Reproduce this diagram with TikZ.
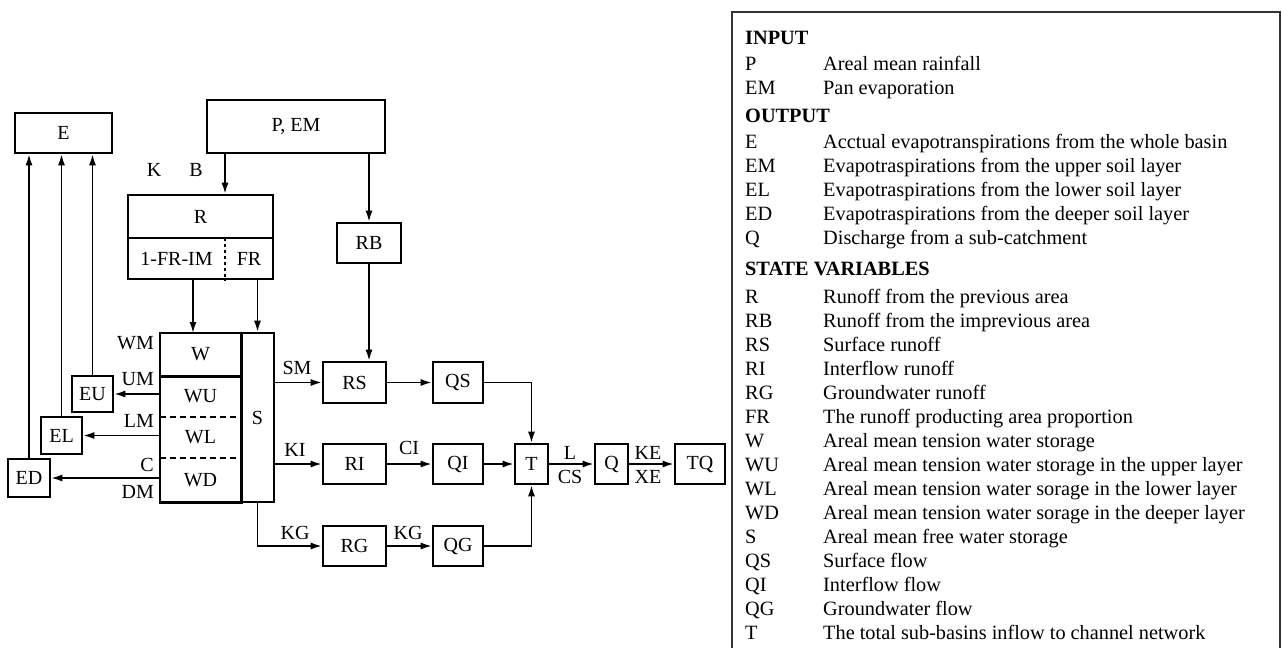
\documentclass[tikz,border=0pt]{standalone}
\usepackage{fontspec}
\setmainfont{Liberation Serif}
\usepackage{array}
\usetikzlibrary{arrows.meta,positioning}
\tikzset{
  box/.style   = {rectangle, draw, line width=2.6pt, inner sep=0pt},
  lay/.style   = {rectangle, inner sep=0pt, minimum width=81pt},
  lbl/.style   = {inner sep=0pt},
  arr/.style   = {-{Latex[length=11pt,width=7pt]}, line width=1.6pt},
  lane/.style  = {line width=1.6pt},
  split/.style = {line width=1.6pt, dash pattern=on 6pt off 4pt},
  frame/.style = {line width=1.6pt, black!80},
}

\begin{document}
\begin{tikzpicture}[x=1pt,y=-1pt,font=\fontsize{20}{24}\selectfont]
\useasboundingbox (0,0) rectangle (1282,648);
% inputs and runoff generation
\node[box, minimum width=97pt,  minimum height=40pt] (E)   at (63.5,133)  {E};
\node[box, minimum width=178pt, minimum height=53pt] (PEM) at (296,126.5) {P, EM};
\node[box, minimum width=145pt, minimum height=43pt] (R)   at (200.5,216.5) {R};
\node[box, minimum width=145pt, minimum height=41pt] (Rsplit) at (200.5,258.5) {};
\node[lbl] (imp) at (176.5,259) {1-FR-IM};
\node[lbl] (fr)  at (249,259) {FR};
\coordinate (div) at (225,238);
\draw[split, dash pattern=on 3pt off 3pt] (div) -- (Rsplit.south -| div);
\node[lbl] (K) at (154,170) {K};
\node[lbl] (B) at (196,170) {B};
\node[box, minimum width=64pt, minimum height=40pt] (RB) at (369,243) {RB};
\draw[arr] (PEM.south -| div) -- (R.north -| div);
\draw[arr] (PEM.south -| RB.north) -- (RB.north);
% tension and free water storage
\node[lay, minimum height=43pt] (W)  at (200.5,354.5) {W};
\node[lay, minimum height=41pt] (WU) at (200.5,396.5) {WU};
\node[lay, minimum height=41pt] (WL) at (200.5,437.5) {WL};
\node[lay, minimum height=44pt] (WD) at (200.5,480)   {WD};
\draw[line width=2.6pt] (W.north west) rectangle (WD.south east);
\draw[line width=2.6pt] (W.south west) -- (W.south east);
\draw[split] (WU.south west) -- (WU.south east);
\draw[split] (WL.south west) -- (WL.south east);
\node[box, minimum width=33pt, minimum height=169pt] (S) at (257.5,417.5) {S};
\coordinate (inW) at (193,333);
\draw[arr] (Rsplit.south -| inW) -- (inW);
\draw[arr] (Rsplit.south -| S.north) -- (S.north);
\node[lbl, anchor=east] (WM) at (154,343) {WM};
\node[lbl, anchor=east] (UM) at (154,379) {UM};
\node[lbl, anchor=east] (LM) at (154,421) {LM};
\node[lbl, anchor=east] (C)  at (154,465) {C};
\node[lbl, anchor=east] (DM) at (154,492) {DM};
% evapotranspiration
\node[box, minimum width=41pt, minimum height=36pt] (EU) at (92.5,394)  {EU};
\node[box, minimum width=41pt, minimum height=37pt] (EL) at (61.5,435.5) {EL};
\node[box, minimum width=42pt, minimum height=38pt] (ED) at (29,478)    {ED};
\draw[arr] (WU.west |- EU.east) -- (EU.east);
\draw[arr] (WL.west |- EL.east) -- (EL.east);
\draw[arr] (WD.west |- ED.east) -- (ED.east);
\draw[arr] (EU.north) -- (EU.north |- E.south);
\draw[arr] (EL.north) -- (EL.north |- E.south);
\draw[arr] (ED.north) -- (ED.north |- E.south);
% runoff routing
\node[box, minimum width=63pt, minimum height=41pt] (RS) at (354.5,382.5) {RS};
\node[box, minimum width=50pt, minimum height=41pt] (QS) at (458,382.5)   {QS};
\node[box, minimum width=63pt, minimum height=40pt] (RI) at (354.5,464)   {RI};
\node[box, minimum width=50pt, minimum height=40pt] (QI) at (458,464)     {QI};
\node[box, minimum width=63pt, minimum height=40pt] (RG) at (354.5,546)   {RG};
\node[box, minimum width=50pt, minimum height=40pt] (QG) at (458,546)     {QG};
\node[box, minimum width=33pt, minimum height=40pt] (T)  at (531.5,464)   {T};
\node[box, minimum width=33pt, minimum height=40pt] (Q)  at (611.5,464)   {Q};
\node[box, minimum width=50pt, minimum height=40pt] (TQ) at (700,464)     {TQ};
\draw[arr] (RB.south) -- (RB.south |- RS.north);
\draw[arr] (S.east |- RS.west) -- (RS.west);
\draw[arr] (S.east |- RI.west) -- (RI.west);
\draw[arr] (S.south) |- (RG.west);
\draw[arr] (RS) -- (QS);
\draw[arr] (RI) -- (QI);
\draw[arr] (RG) -- (QG);
\draw[arr] (QS.east) -| (T.north);
\draw[arr] (QI) -- (T);
\draw[arr] (QG.east) -| (T.south);
\draw[arr] (T) -- (Q);
\draw[arr] (Q) -- (TQ);
\node[lbl] (SM)  at (297,368) {SM};
\node[lbl] (KI)  at (295,450) {KI};
\node[lbl] (KGa) at (295,533) {KG};
\node[lbl] (CI)  at (409,448) {CI};
\node[lbl] (KGb) at (408,533) {KG};
\node[lbl] (L)   at (570,453) {L};
\node[lbl] (CS)  at (570,477) {CS};
\node[lbl] (KE)  at (648,453) {KE};
\node[lbl] (XE)  at (648,477) {XE};
% legend
\draw[frame] (732,648) -- (732,12) -- (1280,12) -- (1280,648);
\node[anchor=base west, inner sep=0pt, font=\fontsize{20.3}{24}\selectfont] (key) at (745,44.6) {%
\begin{tabular}[t]{@{}p{78pt}@{}l@{}}
\multicolumn{2}{@{}l@{}}{\textbf{INPUT}}\\[2pt]
P  & Areal mean rainfall\\
EM & Pan evaporation\\[4pt]
\multicolumn{2}{@{}l@{}}{\textbf{OUTPUT}}\\[2pt]
E  & Acctual evapotranspirations from the whole basin\\
EM & Evapotraspirations from the upper soil layer\\
EL & Evapotraspirations from the lower soil layer\\
ED & Evapotraspirations from the deeper soil layer\\
Q  & Discharge from a sub-catchment\\[7pt]
\multicolumn{2}{@{}l@{}}{\textbf{STATE VARIABLES}}\\[4pt]
R  & Runoff from the previous area\\
RB & Runoff from the imprevious area\\
RS & Surface runoff\\
RI & Interflow runoff\\
RG & Groundwater runoff\\
FR & The runoff producting area proportion\\
W  & Areal mean tension water storage\\
WU & Areal mean tension water storage in the upper layer\\
WL & Areal mean tension water sorage in the lower layer\\
WD & Areal mean tension water sorage in the deeper layer\\
S  & Areal mean free water storage\\
QS & Surface flow\\
QI & Interflow flow\\
QG & Groundwater flow\\
T  & The total sub-basins inflow to channel network
\end{tabular}};
\end{tikzpicture}
\end{document}
